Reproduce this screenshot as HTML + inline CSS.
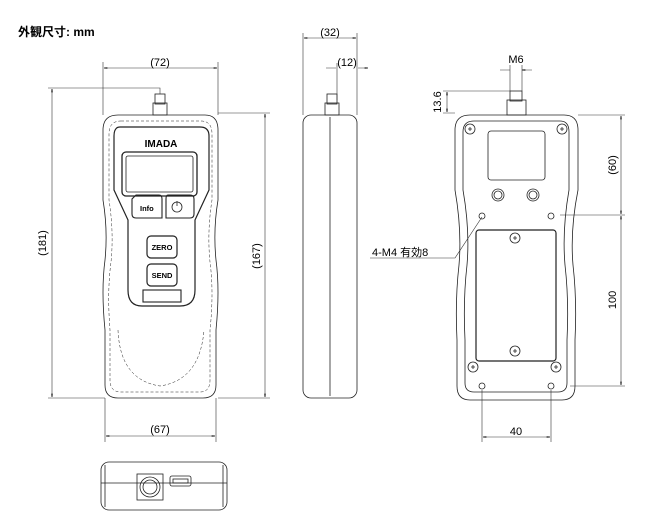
<!DOCTYPE html>
<html><head><meta charset="utf-8"><style>
body{margin:0;background:#fff}
svg{display:block}
text{font-family:"Liberation Sans","Noto Sans CJK JP",sans-serif;fill:#000}
</style></head><body>
<svg width="670" height="526" viewBox="0 0 670 526" xmlns="http://www.w3.org/2000/svg">
<defs>
<marker id="a" viewBox="0 0 10 6" refX="10" refY="3" markerWidth="8" markerHeight="4" orient="auto-start-reverse"><path d="M0,0 L10,3 L0,6" fill="none" stroke="#000" stroke-width="1"/></marker>
</defs>
<text x="18" y="36" font-size="12" font-weight="bold">外観尺寸: mm</text>
<g fill="none" stroke="#222" stroke-width="0.8">
<rect x="155" y="94" width="10" height="10"/><rect x="153" y="103" width="14" height="12"/>
<path d="M118,115 H205 Q218,115 218,130 V200 Q213,230 216,260 Q220,290 216,330 V385 Q216,398 203,398 H118 Q105,398 105,385 V330 Q101,290 105,260 Q108,230 103,200 V130 Q103,115 118,115Z"/>
<path d="M121,121 H201 Q212,121 212,134 V200 Q207,232 210,262 Q214,292 210,330 V380 Q210,392 200,392 H121 Q110,392 110,380 V330 Q107,292 111,262 Q114,232 109,200 V134 Q109,121 121,121Z" stroke-dasharray="3,2" stroke-width="0.5"/>
<path d="M120,127 H200 Q209,127 209,136 V190 L195,220 L195,290 Q195,306 180,306 H142 Q128,306 128,290 L128,220 L114,190 V136 Q114,127 120,127Z" stroke-width="1.2"/>
<rect x="122" y="152" width="75" height="44" rx="4" stroke-width="1.3"/>
<rect x="126" y="156" width="67" height="36" rx="2"/>
<path d="M136,195 H159 Q162,195 162,199 V218 H136 Q132,218 132,214 V199Z" stroke-width="1.1"/>
<path d="M168,195 H190 Q194,195 194,199 V214 Q194,218 190,218 H166 V199 Q166,195 168,195Z" stroke-width="1.1"/>
<circle cx="177" cy="207" r="5"/><path d="M177,201 V206"/>
<rect x="147" y="236" width="30" height="22" rx="4" stroke-width="1.2"/>
<rect x="147" y="264" width="30" height="22" rx="4" stroke-width="1.2"/>
<rect x="143" y="290" width="38" height="12" stroke-width="1.1"/>
<path d="M118,330 Q120,380 160,386 Q200,380 204,330" stroke-dasharray="3,2" stroke-width="0.5"/>
<rect x="327" y="94" width="10" height="10"/><rect x="325" y="103" width="14" height="12"/>
<rect x="303" y="115" width="54" height="283" rx="8"/>
<path d="M330,117 V396"/>
<rect x="510" y="91" width="12" height="10"/><rect x="507" y="100" width="19" height="15"/>
<path d="M470,115 H564 Q578,115 578,130 V190 Q570,230 573,265 Q577,300 575,340 V386 Q575,400 562,400 H470 Q457,400 457,386 V340 Q455,300 459,265 Q462,230 455,190 V130 Q455,115 470,115Z"/>
<path d="M474,121 H560 Q569,121 569,132 V190 Q562,230 565,265 Q569,300 567,340 V383 Q567,392 558,392 H474 Q465,392 465,383 V340 Q463,300 467,265 Q470,230 463,190 V132 Q463,121 474,121Z"/>
<rect x="488" y="131" width="57" height="49" rx="3"/>
<circle cx="498" cy="195" r="6"/><circle cx="498" cy="195" r="4"/>
<circle cx="533" cy="195" r="6"/><circle cx="533" cy="195" r="4"/>
<rect x="476" y="230" width="80" height="131" rx="3" stroke-width="1.2"/>
<g stroke-width="0.8">
<circle cx="470" cy="129" r="5"/><circle cx="562" cy="129" r="5"/><circle cx="473" cy="367" r="5"/><circle cx="556" cy="367" r="5"/><circle cx="515" cy="238" r="5"/><circle cx="515" cy="351" r="5"/>
<circle cx="482" cy="216" r="3"/><circle cx="551" cy="216" r="3"/><circle cx="482" cy="386" r="3"/><circle cx="551" cy="386" r="3"/>
<path d="M468,129h4M470,127v4M560,129h4M562,127v4M471,367h4M473,365v4M554,367h4M556,365v4M513,238h4M515,236v4M513,351h4M515,349v4"/>
</g>
<rect x="101" y="462" width="126" height="48" rx="8"/>
<path d="M105,465 V507 M223,465 V507"/>
<path d="M101,483 H227"/>
<rect x="137" y="474" width="26" height="26"/><circle cx="150" cy="487" r="10"/><circle cx="150" cy="487" r="7"/>
<rect x="170" y="476" width="21" height="10" rx="2"/><rect x="173" y="479" width="15" height="4"/>
</g>
<g fill="none" stroke="#333" stroke-width="0.6">
<path d="M103,115 V62 M218,115 V62 M160,94 V88 H48 M105,398 H48 M218,113 H270 M218,398 H270 M105,398 V442 M216,398 V442"/>
<path d="M303,115 V33 M357,115 V33 M337,100 V63"/>
<path d="M510,91 V65 M522,91 V65 M510,91 H443 M455,113 H443 M578,115 H625 M560,215 H625 M570,386 H625 M482,390 V442 M551,390 V442"/>
<path d="M370,258 H455 L482,217"/>
</g>
<g stroke="#333" stroke-width="0.6" fill="none" marker-start="url(#a)" marker-end="url(#a)">
<path d="M104,68 H217"/><path d="M52,89 V397"/><path d="M265,114 V397"/><path d="M106,436 H215"/>
<path d="M304,38 H356"/><path d="M621,116 V214"/><path d="M621,216 V385"/><path d="M483,437 H550"/><path d="M447,92 V112"/>
</g>
<path d="M326,68 H336 M358,68 H368" stroke="#333" stroke-width="0.6" marker-end="url(#a)"/>
<path d="M500,70 H510 M532,70 H522" stroke="#333" stroke-width="0.6" marker-end="url(#a)"/>
<g font-size="11">
<text x="160" y="66" text-anchor="middle">(72)</text>
<text x="160" y="433" text-anchor="middle">(67)</text>
<text x="330" y="36" text-anchor="middle">(32)</text>
<text x="347" y="66" text-anchor="middle">(12)</text>
<text x="516" y="63" text-anchor="middle">M6</text>
<text x="516" y="435" text-anchor="middle">40</text>
<text x="372" y="256">4-M4 有効8</text>
<text transform="translate(46,243) rotate(-90)" text-anchor="middle">(181)</text>
<text transform="translate(260,256) rotate(-90)" text-anchor="middle">(167)</text>
<text transform="translate(441,102) rotate(-90)" text-anchor="middle">13.6</text>
<text transform="translate(616,165) rotate(-90)" text-anchor="middle">(60)</text>
<text transform="translate(616,300) rotate(-90)" text-anchor="middle">100</text>
</g>
<g font-size="7.5" font-weight="bold">
<text x="140" y="211">Info</text>
<text x="162" y="250" text-anchor="middle">ZERO</text>
<text x="162" y="278" text-anchor="middle">SEND</text>
<text x="161" y="147" text-anchor="middle" font-size="10">IMADA</text>
</g>
</svg>
</body></html>
